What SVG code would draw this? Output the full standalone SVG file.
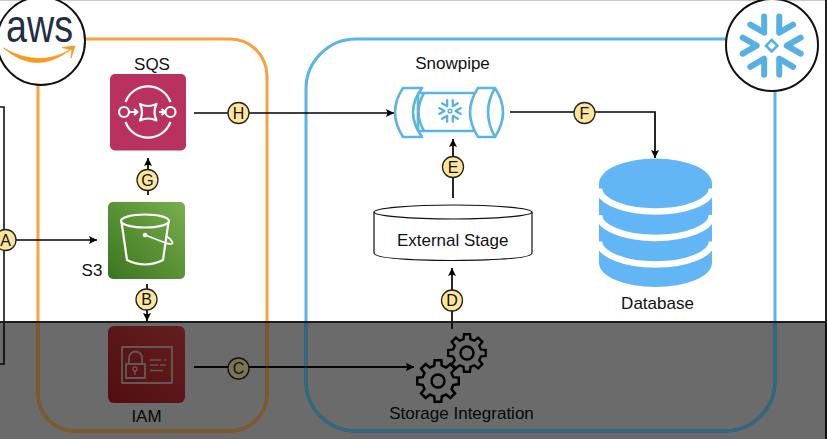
<svg xmlns="http://www.w3.org/2000/svg" xmlns:xlink="http://www.w3.org/1999/xlink" width="827" height="439" viewBox="0 0 827 439">
<style>
text{font-family:"Liberation Sans",Arial,sans-serif;fill:#111;text-anchor:middle}
.lbl{font-size:17px}
.conn{fill:none;stroke:#000;stroke-width:1.7}
.badge circle{fill:#ffe599;stroke:#222;stroke-width:1.3}
.badge text{font-size:16px}
.tile{stroke:none}
.ic{fill:none;stroke:#fff;stroke-width:2.2;stroke-linejoin:round}
.ic2{fill:none;stroke:#f2d0d0;stroke-width:2;stroke-linejoin:round}
.pipe{fill:#fff;stroke:#5ab4e5;stroke-width:2.6;stroke-linejoin:round}
.flake{fill:none;stroke:#55b1e4;stroke-width:6;stroke-linecap:round;stroke-linejoin:round}
.gear{fill:none;stroke:#000;stroke-width:2.4;stroke-linejoin:miter}
</style>
<defs>
<marker id="arrow" markerUnits="userSpaceOnUse" markerWidth="9" markerHeight="9" refX="8" refY="4" orient="auto"><path d="M0 0L8 4L0 8L1.5 4Z" fill="#000"/></marker>
<linearGradient id="s3g" x1="0" y1="1" x2="1" y2="0"><stop offset="0" stop-color="#3a741f"/><stop offset="1" stop-color="#78b04c"/></linearGradient>
<linearGradient id="iamg" x1="0" y1="1" x2="1" y2="0"><stop offset="0" stop-color="#c32026"/><stop offset="1" stop-color="#ee4a50"/></linearGradient>
<clipPath id="below"><rect x="0" y="323" width="827" height="116"/></clipPath>
<g id="flakeshape">
<path d="M-29 -8L-15 0L-29 8"/>
<path d="M-29 -8L-15 0L-29 8" transform="rotate(60)"/>
<path d="M-29 -8L-15 0L-29 8" transform="rotate(120)"/>
<path d="M-29 -8L-15 0L-29 8" transform="rotate(180)"/>
<path d="M-29 -8L-15 0L-29 8" transform="rotate(240)"/>
<path d="M-29 -8L-15 0L-29 8" transform="rotate(300)"/>
</g>
<polygon id="gearshape" points="19.75,-3.13 19.75,3.13 14.55,3.63 12.86,7.73 16.18,11.76 11.76,16.18 7.73,12.86 3.63,14.55 3.13,19.75 -3.13,19.75 -3.63,14.55 -7.73,12.86 -11.76,16.18 -16.18,11.76 -12.86,7.73 -14.55,3.63 -19.75,3.13 -19.75,-3.13 -14.55,-3.63 -12.86,-7.73 -16.18,-11.76 -11.76,-16.18 -7.73,-12.86 -3.63,-14.55 -3.13,-19.75 3.13,-19.75 3.63,-14.55 7.73,-12.86 11.76,-16.18 16.18,-11.76 12.86,-7.73 14.55,-3.63"/>
</defs>
<rect width="827" height="439" fill="#fff"/>
<rect x="0" y="0" width="827" height="1" fill="#c8c8c8"/>
<rect x="825" y="0" width="2" height="439" fill="#222"/>
<g id="left-box"><path d="M0 107H4V364H0" fill="none" stroke="#111" stroke-width="1.600"/></g>
<g id="aws-boundary"><rect x="38" y="39" width="229" height="392" rx="37" fill="none" stroke="#f9a23c" stroke-width="3"/></g>
<g id="snowflake-boundary"><rect x="306" y="39" width="469" height="392" rx="50" fill="none" stroke="#5ab4e5" stroke-width="3"/></g>

<g id="connectors">
<path class="conn" d="M5 240H97" marker-end="url(#arrow)"/>
<path class="conn" d="M147 284V321" marker-end="url(#arrow)"/>
<path class="conn" d="M194 367H414" marker-end="url(#arrow)"/>
<path class="conn" d="M452 329V268" marker-end="url(#arrow)"/>
<path class="conn" d="M453 198V139" marker-end="url(#arrow)"/>
<path class="conn" d="M510 112H655V158" marker-end="url(#arrow)"/>
<path class="conn" d="M148 195V158" marker-end="url(#arrow)"/>
<path class="conn" d="M194 113H394" marker-end="url(#arrow)"/>
</g>

<g id="aws-logo">
<circle cx="41" cy="41" r="44" fill="#fff" stroke="#111" stroke-width="2"/>
<text x="39.500" y="42" font-size="46" textLength="67" lengthAdjust="spacingAndGlyphs" style="fill:#232f3e">aws</text>
<path d="M3.500 48Q36 76 70 50Q38 68 3.500 48Z" fill="#f79a1f" stroke="#f79a1f" stroke-width=".8" stroke-linejoin="round"/>
<path d="M62 47.500L75 46L71 58L72 50Z" fill="#f79a1f" stroke="#f79a1f" stroke-width=".8" stroke-linejoin="round"/>
</g>
<g id="snowflake-logo">
<circle cx="772" cy="45" r="46" fill="#fff" stroke="#111" stroke-width="2"/>
<use xlink:href="#flakeshape" href="#flakeshape" class="flake" transform="translate(771.700 45.700)"/>
<path d="M771.700 40L777.400 45.700L771.700 51.400L766 45.700Z" fill="none" stroke="#55b1e4" stroke-width="2.600"/>
</g>

<g id="sqs">
<rect class="tile" x="110" y="74" width="76" height="76.500" rx="5" fill="#b9325f"/>
<path class="ic" d="M125.500 102A24 24 0 0 1 170.500 102M125.500 122A24 24 0 0 0 170.500 122"/>
<circle class="ic" cx="124" cy="112" r="5"/><circle class="ic" cx="170.500" cy="112" r="5"/>
<path class="ic" d="M140 104Q148 108 156.500 104Q152.500 112 156.500 120.500Q148 116.500 140 120.500Q144 112 140 104Z"/>
<path class="ic" d="M130 112H137M134 109L137.500 112L134 115M159 112H165M161.500 109L165 112L161.500 115"/>
<text class="lbl" x="152" y="69.500">SQS</text>
</g>
<g id="s3">
<rect class="tile" x="108" y="202" width="77" height="77" rx="5" fill="url(#s3g)"/>
<ellipse class="ic" cx="145" cy="221" rx="24" ry="6.500"/>
<path class="ic" d="M121.500 222L127 260Q145 269 163 260L168.500 222"/>
<circle cx="145" cy="235" r="2.300" fill="#fff"/>
<path class="ic" d="M145 235L167 243.500Q174 245 172 241.500Q170 238 166 236" style="stroke-width:1.800"/>
<text class="lbl" x="92" y="275.500">S3</text>
</g>
<g id="iam">
<rect class="tile" x="108" y="326" width="77" height="77" rx="6" fill="url(#iamg)"/>
<rect class="ic2" x="122" y="347" width="50" height="36" style="stroke-width:1.800"/>
<rect class="ic2" x="126" y="364" width="19" height="14" style="stroke-width:1.800"/>
<path class="ic2" d="M129 364V358A6.500 6.500 0 0 1 142 358V364" style="stroke-width:1.800"/>
<circle class="ic2" cx="135" cy="369" r="2" style="stroke-width:1.500"/>
<path class="ic2" d="M135 371V375M150 360H161M164 360H166M150 365H158M160 365H166M150 370.500H163" style="stroke-width:1.500"/>
<text class="lbl" x="146.500" y="421.500">IAM</text>
</g>
<g id="snowpipe">
<path class="pipe" d="M418 93H478V131H418Z"/>
<path class="pipe" style="fill:none" d="M424 93Q413 112 424 131"/>
<path class="pipe" d="M403 88H422Q404 112 422 137H403Q387 112 403 88Z"/>
<path class="pipe" d="M478 88H495Q511 112 495 137H478Q462 112 478 88Z"/>
<path class="pipe" style="fill:none" d="M495 88Q481 112 495 137"/>
<g transform="translate(450 111) scale(.37)"><use xlink:href="#flakeshape" href="#flakeshape" class="flake"/><circle r="5" fill="none" stroke="#55b1e4" stroke-width="4"/></g>
<text x="452.500" y="69" font-size="17">Snowpipe</text>
</g>
<g id="external-stage">
<path d="M374 212V253Q374 260 453 260.500Q532 260 532 253V212" fill="#fff" stroke="#111" stroke-width="1.200"/>
<ellipse cx="453" cy="212" rx="79" ry="7" fill="#fff" stroke="#111" stroke-width="1.200"/>
<text x="452.700" y="245.500" font-size="17">External Stage</text>
</g>
<g id="database">
<path d="M599 183.500V263A56.500 24 0 0 0 712 263V183.500Z" fill="#63b6f5"/>
<ellipse cx="655.500" cy="183.500" rx="56.500" ry="25" fill="#63b6f5"/>
<path d="M599 188.500A56.500 23 0 0 0 712 188.500M599 215A56.500 23 0 0 0 712 215M599 241.500A56.500 23 0 0 0 712 241.500" fill="none" stroke="#fff" stroke-width="6.500"/>
<text x="657.500" y="308.500" font-size="17">Database</text>
</g>
<g id="storage-integration">
<use xlink:href="#gearshape" href="#gearshape" class="gear" transform="translate(467 353) scale(.95)"/>
<circle class="gear" cx="467" cy="353" r="6.500"/>
<use xlink:href="#gearshape" href="#gearshape" class="gear" transform="translate(438 381) scale(1.050)"/>
<circle class="gear" cx="438" cy="381" r="6.500"/>
<text x="461.500" y="419" font-size="17">Storage Integration</text>
</g>

<g id="badges">
<g id="badge-a" class="badge"><circle cx="5.500" cy="240" r="10.500"/><text x="5.500" y="245.700">A</text></g>
<g id="badge-b" class="badge"><circle cx="146.500" cy="299.500" r="10.500"/><text x="146.500" y="305.200">B</text></g>
<g id="badge-d" class="badge"><circle cx="452" cy="300.500" r="10.500"/><text x="452" y="306.200">D</text></g>
<g id="badge-e" class="badge"><circle cx="453" cy="167" r="10.500"/><text x="453" y="172.700">E</text></g>
<g id="badge-f" class="badge"><circle cx="584.500" cy="113" r="10.500"/><text x="584.500" y="118.700">F</text></g>
<g id="badge-g" class="badge"><circle cx="147.500" cy="180" r="10.500"/><text x="147.500" y="185.700">G</text></g>
<g id="badge-h" class="badge"><circle cx="238.500" cy="113" r="10.500"/><text x="238.500" y="118.700">H</text></g>
</g>
<rect id="shade" x="0" y="322" width="827" height="117" fill="#000" fill-opacity=".58"/>
<rect x="38" y="39" width="229" height="392" rx="37" fill="none" stroke="#7f5a2a" stroke-width="3" clip-path="url(#below)"/>
<rect x="306" y="39" width="469" height="392" rx="50" fill="none" stroke="#2f6a85" stroke-width="3" clip-path="url(#below)"/>
<path class="conn" d="M194 367H414" marker-end="url(#arrow)"/>
<g id="badge-c" class="badge"><circle cx="238.500" cy="368.500" r="10.500" style="fill:#7b7352;stroke:#111"/><text x="238.500" y="374.200">C</text></g>
<rect x="0" y="321" width="827" height="2" fill="#1c1c1c"/>
</svg>
